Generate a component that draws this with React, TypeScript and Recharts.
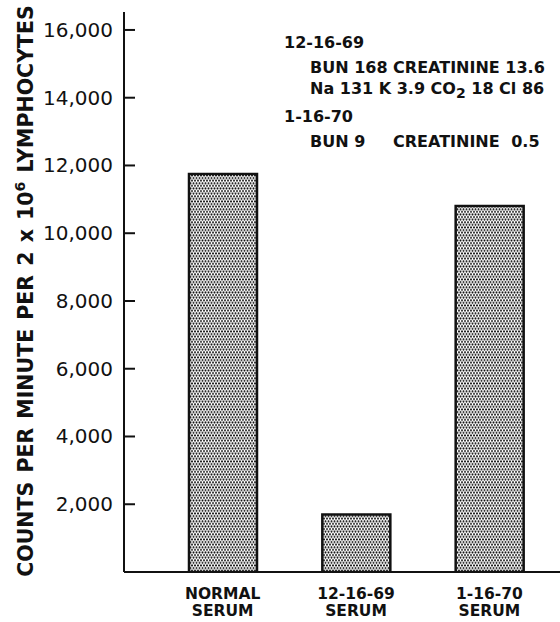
import { Bar, BarChart, Customized, Label, XAxis, YAxis } from 'recharts'

const categories = ['NORMAL', '12-16-69', '1-16-70']
const categorySub = ['SERUM', 'SERUM', 'SERUM']
const counts = [11750, 1700, 10800]
const yTicks = [2000, 4000, 6000, 8000, 10000, 12000, 14000, 16000]

const data = categories.map((name, i) => ({ name, sub: categorySub[i], counts: counts[i] }))

const AXIS_X = 124
const FONT = '"DejaVu Sans", sans-serif'

interface TickProps {
  x?: number
  y?: number
  payload?: { value: number | string; coordinate?: number }
  index?: number
}

function YTick({ y, payload }: TickProps) {
  const v = Number(payload?.value ?? 0)
  return (
    <g>
      <line x1={AXIS_X} x2={AXIS_X + 11} y1={y} y2={y} stroke="#111" strokeWidth={2} />
      <text
        x={AXIS_X - 11}
        y={y}
        dy={7}
        textAnchor="end"
        fontFamily={FONT}
        fontSize={20}
        fill="#111"
      >
        {v.toLocaleString('en-US')}
      </text>
    </g>
  )
}

function XTick({ x, y, index }: TickProps) {
  const i = index ?? 0
  return (
    <g fontFamily={FONT} fontSize={15.5} fontWeight="bold" fill="#111">
      <text x={x} y={(y ?? 0) + 19} textAnchor="middle">
        {categories[i]}
      </text>
      <text x={x} y={(y ?? 0) + 36} textAnchor="middle">
        {categorySub[i]}
      </text>
    </g>
  )
}

function YLabel() {
  return (
    <text
      x={33}
      y={291}
      transform="rotate(-90, 33, 291)"
      textAnchor="middle"
      fontFamily={FONT}
      fontSize={20.5}
      fontWeight="bold"
      wordSpacing={2}
      fill="#111"
    >
      COUNTS PER MINUTE PER 2 x 10
      <tspan dy={-8} fontSize={14}>6</tspan>
      <tspan dy={8}> LYMPHOCYTES</tspan>
    </text>
  )
}

function Notes() {
  return (
    <g fontFamily={FONT} fontSize={16} fontWeight="bold" fill="#111">
      <text x={284} y={48}>12-16-69</text>
      <text x={310} y={73}>BUN 168 CREATININE 13.6</text>
      <text x={310} y={94}>
        Na 131 K 3.9 CO
        <tspan dy={4} fontSize={14}>2</tspan>
        <tspan dy={-4}> 18 Cl 86</tspan>
      </text>
      <text x={284} y={122}>1-16-70</text>
      <text x={310} y={147}>BUN 9</text>
      <text x={393} y={147} wordSpacing={6}>CREATININE 0.5</text>
    </g>
  )
}

export default function App() {
  return (
    <div style={{ position: 'absolute', left: 0, top: 0, width: 560, height: 622, background: '#fff' }}>
      <BarChart
        width={560}
        height={622}
        data={data}
        margin={{ top: 12, right: 0, left: 0, bottom: 0 }}
      >
        <defs>
          <pattern id="stipple" width={6} height={5.2} patternUnits="userSpaceOnUse">
            <rect width={6} height={5.2} fill="#fff" />
            <circle cx={1.5} cy={1.3} r={1} fill="#111" />
            <circle cx={4.5} cy={1.3} r={1} fill="#111" />
            <circle cx={0} cy={3.9} r={1} fill="#111" />
            <circle cx={3} cy={3.9} r={1} fill="#111" />
            <circle cx={6} cy={3.9} r={1} fill="#111" />
          </pattern>
        </defs>
        <XAxis
          dataKey="name"
          height={50}
          padding={{ left: 32, right: 4 }}
          tickLine={false}
          axisLine={{ stroke: '#111', strokeWidth: 2 }}
          tick={<XTick />}
          interval={0}
        />
        <YAxis
          width={AXIS_X}
          domain={[0, 16530]}
          ticks={yTicks}
          allowDataOverflow
          tickLine={false}
          axisLine={{ stroke: '#111', strokeWidth: 2 }}
          tick={<YTick />}
        >
          <Label content={<YLabel />} />
        </YAxis>
        <Bar
          dataKey="counts"
          barSize={68}
          fill="url(#stipple)"
          stroke="#111"
          strokeWidth={2.5}
          isAnimationActive={false}
        />
        <Customized component={<Notes />} />
      </BarChart>
    </div>
  )
}
